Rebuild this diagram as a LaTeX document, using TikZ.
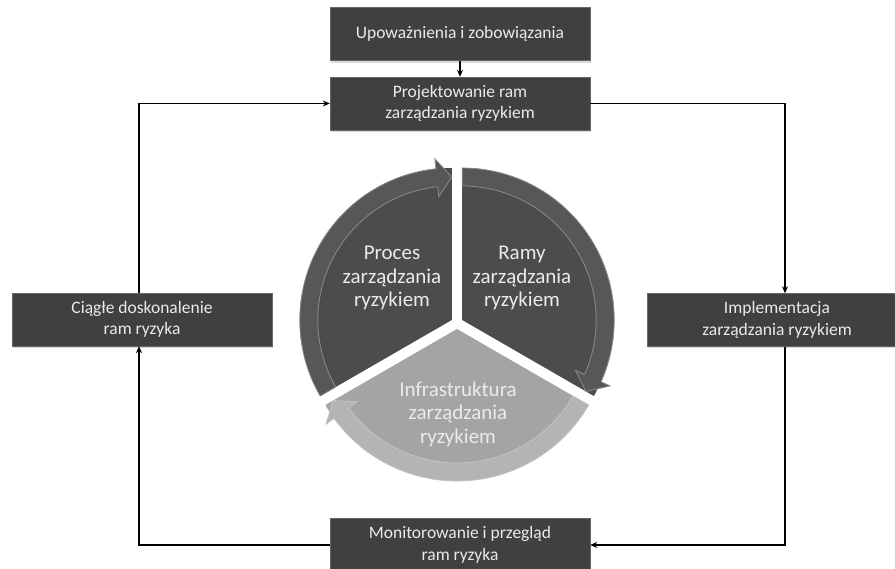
\documentclass[tikz,border=0pt]{standalone}
\usepackage{fontspec}
\setmainfont{Carlito}
\usetikzlibrary{positioning, arrows.meta, shadows}

\definecolor{boxgray}{HTML}{404040}
\definecolor{piedark}{HTML}{4C4C4C}
\definecolor{banddark}{HTML}{575757}
\definecolor{pielight}{HTML}{A4A4A4}
\definecolor{bandlight}{HTML}{B4B4B4}

\begin{document}
\begin{tikzpicture}[
    x=1pt, y=1pt,
    node distance=16pt,
    box/.style={rectangle, draw=gray!80!black, fill=boxgray, minimum width=260pt, minimum height=53pt, text=white!92!black, align=center, font=\fontsize{17.5}{21.5}\selectfont, drop shadow={opacity=0.3, shadow xshift=1pt, shadow yshift=-2pt}},
    arrow/.style={-{Stealth[length=7pt, width=6pt]}, line width=1.1pt},
    pielabel/.style={text=white!92!black, align=center, font=\fontsize{21}{23.5}\selectfont}
]
\useasboundingbox (0,0) rectangle (895,569);

% Boxes round the cycle
\node[box] (proj) at (460,465.5) {Projektowanie ram\\zarządzania ryzykiem};
\node[box, above=16pt of proj] (upow) {Upoważnienia i zobowiązania};
\node[box] (impl) at (777,249) {Implementacja\\zarządzania ryzykiem};
\node[box] (monit) at (460,24) {Monitorowanie i przegląd\\ram ryzyka};
\node[box] (ciag) at (142,249.5) {Ciągłe doskonalenie\\ram ryzyka};

% Pie with circular arrows
\coordinate (pie) at (457,246);
\foreach \s/\e/\off/\fcol/\bcol in {210/90/150/piedark/banddark, 90/-30/30/piedark/banddark, -30/-150/270/pielight/bandlight} {
    \begin{scope}[shift={(pie)}, shift={(\off:6)}]
        \fill[\fcol] (0,0) -- (\s:152) arc[start angle=\s, end angle=\e, radius=152] -- cycle;
        \filldraw[fill=\bcol, draw=\fcol!65!white, line width=0.8pt]
            (\s:152) arc[start angle=\s, end angle=\e+6, radius=152]
            -- (\e+6:162) -- (\e:143) -- (\e+6:124) -- (\e+6:134)
            arc[start angle=\e+6, end angle=\s, radius=134] -- cycle;
    \end{scope}
}

% Pie labels
\node[pielabel] (proces) at (392,291) {Proces\\zarządzania\\ryzykiem};
\node[pielabel] (ramy) at (522,291) {Ramy\\zarządzania\\ryzykiem};
\node[pielabel] (infra) at (458,155) {Infrastruktura\\zarządzania\\ryzykiem};

% Connectors
\draw[arrow] (upow) -- (proj);
\draw[arrow] (proj.east) -| ([xshift=8pt]impl.north);
\draw[arrow] ([xshift=8pt]impl.south) |- (monit.east);
\draw[arrow] (monit.west) -| ([xshift=-3pt]ciag.south);
\draw[arrow] ([xshift=-3pt]ciag.north) |- (proj.west);

\end{tikzpicture}
\end{document}
